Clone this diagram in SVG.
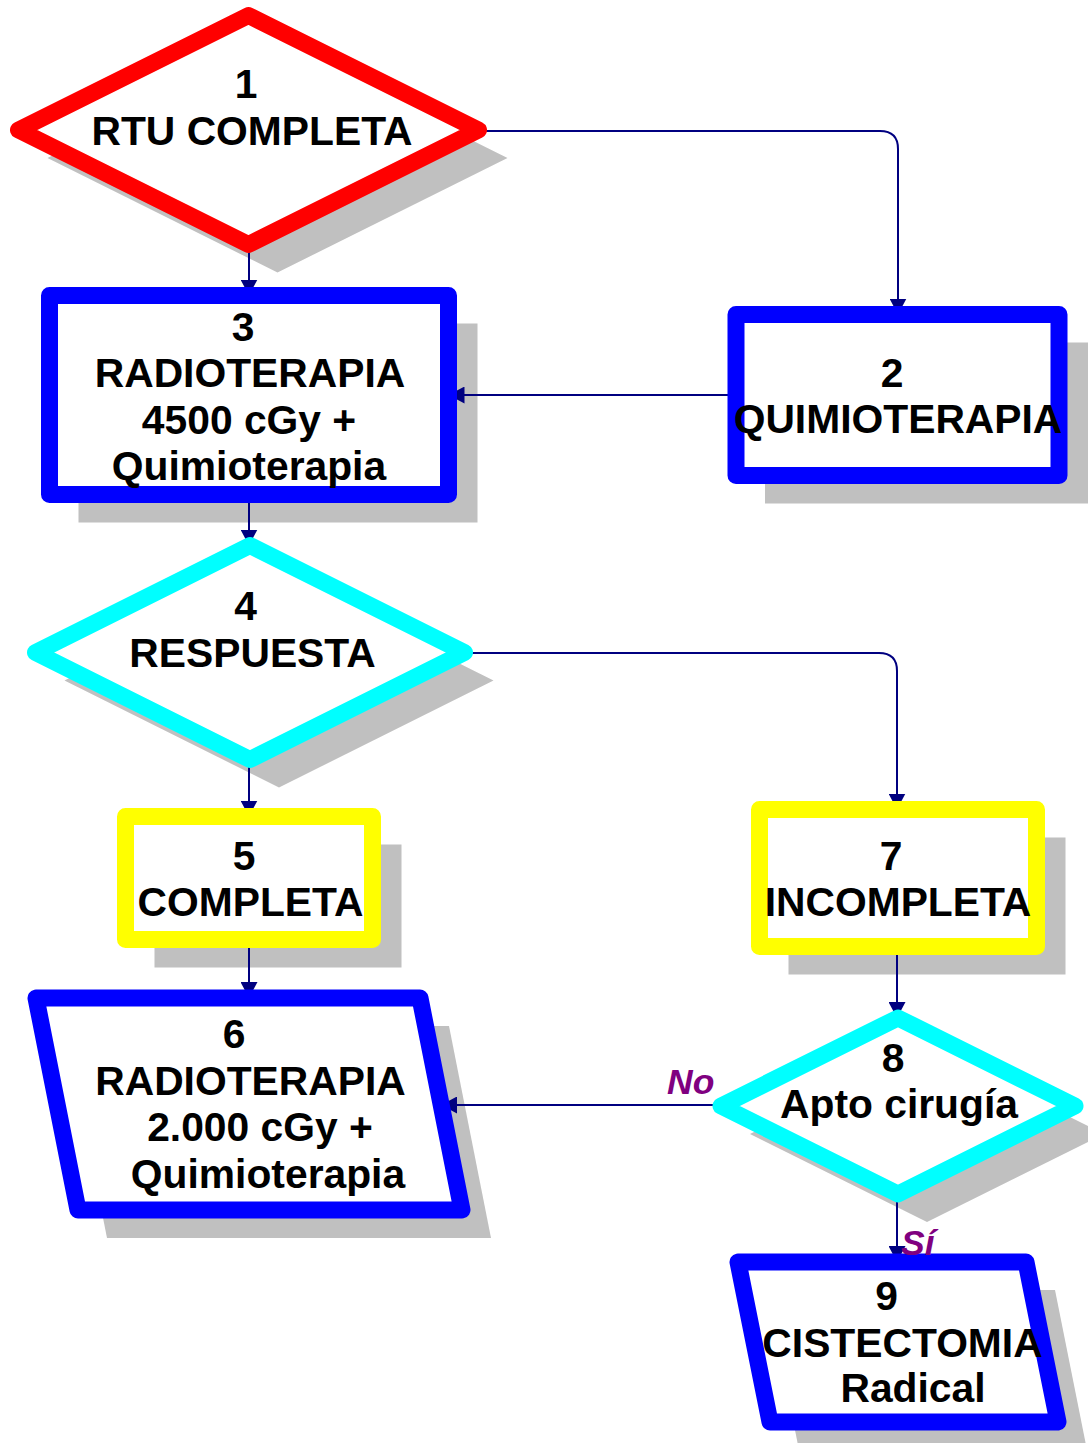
<svg xmlns="http://www.w3.org/2000/svg" width="1088" height="1443" viewBox="0 0 1088 1443">
<style>
.sh{fill:#C0C0C0;stroke:none}
.nd{fill:#FFFFFF;stroke-width:17;stroke-linejoin:round}
.red{stroke:#FF0000}
.blue{stroke:#0000FF}
.cyan{stroke:#00FFFF}
.yel{stroke:#FFFF00}
.cn{fill:none;stroke:#000080;stroke-width:2;marker-end:url(#ah)}
text{font-family:"Liberation Sans",Arial,sans-serif;font-weight:bold;font-size:40.8px;fill:#000000;text-anchor:middle}
.lb{font-size:35.5px;font-style:italic;fill:#800080;text-anchor:start}
</style>
<defs>
<marker id="ah" viewBox="0 0 16 17" refX="16" refY="8.5" markerWidth="16" markerHeight="17" markerUnits="userSpaceOnUse" orient="auto">
<path d="M0,0 L16,8.5 L0,17 Z" fill="#000080"/>
</marker>
</defs>
<rect width="1088" height="1443" fill="#FFFFFF"/>
<g id="shadows" transform="translate(29,28)">
<polygon class="sh" points="18.5,130 248.5,15.5 478.5,130 248.5,244.5"/>
<rect class="sh" x="736" y="314.5" width="323" height="161"/>
<rect class="sh" x="49.5" y="295.5" width="399" height="199"/>
<polygon class="sh" points="35.5,652.5 250,545.5 464.5,652.5 250,759.5"/>
<rect class="sh" x="125.5" y="816.5" width="247" height="123"/>
<rect class="sh" x="759.5" y="809.5" width="277" height="137"/>
<polygon class="sh" points="36,998 420,998 462,1210 78,1210"/>
<polygon class="sh" points="721,1106 898,1018 1075,1106 898,1194"/>
<polygon class="sh" points="738,1262 1026,1262 1058,1422 770,1422"/>
</g>
<g id="connectors">
<path class="cn" d="M249,244.5 V295.5"/>
<path class="cn" d="M478.5,131 H880 Q898,131 898,149 V314.5"/>
<path class="cn" d="M736,395 H448.5"/>
<path class="cn" d="M249,494.5 V545.5"/>
<path class="cn" d="M464.5,653 H879 Q897,653 897,671 V809.5"/>
<path class="cn" d="M249,759.5 V816.5"/>
<path class="cn" d="M249,939.5 V998"/>
<path class="cn" d="M897,946.5 V1018"/>
<path class="cn" d="M721,1105 H441"/>
<path class="cn" d="M897,1194 V1262"/>
</g>
<g id="node1">
<polygon class="nd red" points="18.5,130 248.5,15.5 478.5,130 248.5,244.5"/>
<text x="246" y="98">1</text>
<text x="252" y="145">RTU COMPLETA</text>
</g>
<g id="node2">
<rect class="nd blue" x="736" y="314.5" width="323" height="161"/>
<text x="892" y="387">2</text>
<text x="898" y="433">QUIMIOTERAPIA</text>
</g>
<g id="node3">
<rect class="nd blue" x="49.5" y="295.5" width="399" height="199"/>
<text x="243" y="341">3</text>
<text x="250" y="387">RADIOTERAPIA</text>
<text x="249" y="434">4500 cGy +</text>
<text x="249" y="480">Quimioterapia</text>
</g>
<g id="node4">
<polygon class="nd cyan" points="35.5,652.5 250,545.5 464.5,652.5 250,759.5"/>
<text x="245.5" y="620">4</text>
<text x="252.5" y="667">RESPUESTA</text>
</g>
<g id="node5">
<rect class="nd yel" x="125.5" y="816.5" width="247" height="123"/>
<text x="244" y="870">5</text>
<text x="250.5" y="916">COMPLETA</text>
</g>
<g id="node6">
<polygon class="nd blue" points="36,998 420,998 462,1210 78,1210"/>
<text x="234" y="1048">6</text>
<text x="250.5" y="1095">RADIOTERAPIA</text>
<text x="260" y="1141">2.000 cGy +</text>
<text x="268" y="1188">Quimioterapia</text>
</g>
<g id="node7">
<rect class="nd yel" x="759.5" y="809.5" width="277" height="137"/>
<text x="891" y="870">7</text>
<text x="898" y="916">INCOMPLETA</text>
</g>
<g id="node8">
<polygon class="nd cyan" points="721,1106 898,1018 1075,1106 898,1194"/>
<text x="893" y="1072">8</text>
<text x="899" y="1118">Apto cirugía</text>
</g>
<g id="node9">
<polygon class="nd blue" points="738,1262 1026,1262 1058,1422 770,1422"/>
<text x="886.5" y="1310">9</text>
<text x="902.5" y="1357">CISTECTOMIA</text>
<text x="913" y="1402">Radical</text>
</g>
<g id="labels">
<text class="lb" x="667" y="1094">No</text>
<text class="lb" x="901" y="1255">Sí</text>
</g>
</svg>
